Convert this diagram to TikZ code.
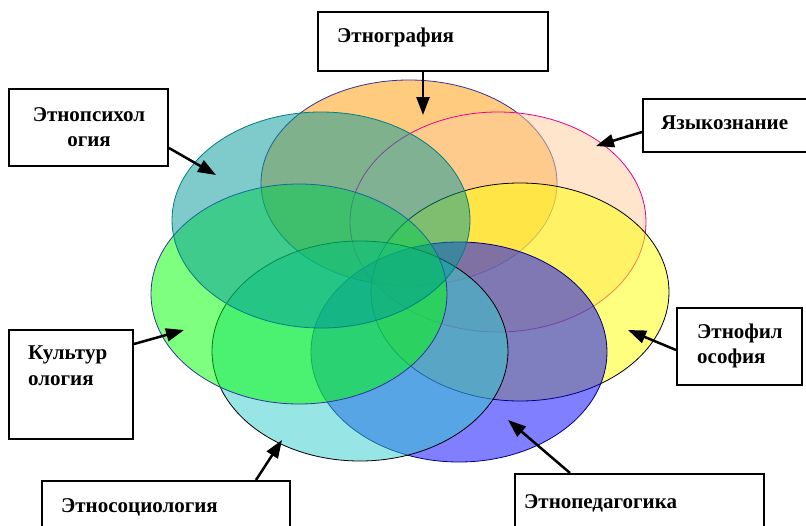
\documentclass[tikz,border=0pt]{standalone}
\usepackage{fontspec}
\setmainfont{Liberation Serif}
\usetikzlibrary{arrows.meta}
\definecolor{cOrange}{HTML}{FF9900}
\definecolor{cPeach}{HTML}{FFCC99}
\definecolor{cTeal}{HTML}{009999}
\definecolor{cYellow}{HTML}{FFFF00}
\definecolor{cGreen}{HTML}{00FF00}
\definecolor{cCyan}{HTML}{33CCCC}
\definecolor{cBlue}{HTML}{0000FF}
\definecolor{bNavy}{HTML}{333399}
\definecolor{bTeal}{HTML}{008080}
\definecolor{bDark}{HTML}{000080}
\tikzset{
  ell/.style={line width=0.8pt, fill opacity=0.5},
  boxnode/.style={draw=black, line width=2pt, fill=white, inner sep=0pt},
  lbl/.style={font=\fontsize{21}{25.5}\selectfont\bfseries, inner sep=0pt},
  arr/.style={line width=2.5pt, -{Triangle[length=18pt,width=13pt]}},
}
\begin{document}
\begin{tikzpicture}[x=1pt,y=-1pt]
\useasboundingbox (0,0) rectangle (806,525);
\clip (0,0) rectangle (806,525);
\fill[white] (0,0) rectangle (806,525);
% ellipses
\draw[ell, draw=bNavy, fill=cOrange] (409,183) ellipse [x radius=148pt, y radius=103pt];
\draw[ell, draw=magenta, fill=cPeach] (498,222) ellipse [x radius=148pt, y radius=110pt];
\draw[ell, draw=black, fill=cYellow] (520,292) ellipse [x radius=149pt, y radius=109pt];
\draw[ell, draw=bDark, fill=cBlue] (459,352) ellipse [x radius=148pt, y radius=110pt];
\draw[ell, draw=black, fill=cCyan] (360,351) ellipse [x radius=148pt, y radius=110pt];
\draw[ell, draw=bNavy, fill=cGreen] (299,294) ellipse [x radius=148pt, y radius=110pt];
\draw[ell, draw=bTeal, fill=cTeal] (321,220) ellipse [x radius=149pt, y radius=108pt];
% boxes
\node[boxnode, minimum width=230pt, minimum height=59pt] (bEthnog) at (433,41.5) {};
\node[lbl, anchor=base west] (tEthnog) at (337,42) {Этнография};
\node[boxnode, minimum width=159pt, minimum height=77pt] (bPsy) at (88.5,127.5) {};
\node[lbl, align=center] (tPsy) at (89,127) {Этнопсихол\\огия};
\node[boxnode, minimum width=170pt, minimum height=53pt] (bLang) at (728,125) {};
\node[lbl, anchor=base west] (tLang) at (661,129) {Языкознание};
\node[boxnode, minimum width=125pt, minimum height=77pt] (bPhil) at (739.5,346.5) {};
\node[lbl, align=left, anchor=west] (tPhil) at (697,346) {Этнофил\\ософия};
\node[boxnode, minimum width=124pt, minimum height=109pt] (bCult) at (71,384.5) {};
\node[lbl, align=left, anchor=north west] (tCult) at (28,346) {Культур\\ология};
\node[boxnode, minimum width=248pt, minimum height=60pt] (bSoc) at (166,511) {};
\node[lbl, anchor=base west] (tSoc) at (61,512) {Этносоциология};
\node[boxnode, minimum width=249pt, minimum height=70pt] (bPed) at (639.5,509) {};
\node[lbl, anchor=base west] (tPed) at (524,508) {Этнопедагогика};
% arrow targets
\coordinate (pEthnog) at (423,115);
\coordinate (pPsy) at (216,175);
\coordinate (pLang) at (596,146);
\coordinate (pPhil) at (628,330);
\coordinate (pCult) at (184,330);
\coordinate (pSoc) at (282,440);
\coordinate (pPed) at (508,420);
% arrows
\draw[arr] (bEthnog.south -| pEthnog) -- (pEthnog);
\draw[arr] (bPsy.east |- 0,148) -- (pPsy);
\draw[arr] (bLang.west |- 0,132) -- (pLang);
\draw[arr] (bPhil.west |- 0,350) -- (pPhil);
\draw[arr] (bCult.east |- 0,344) -- (pCult);
\draw[arr] (bSoc.north -| 256,0) -- (pSoc);
\draw[arr] (bPed.north -| 570,0) -- (pPed);
\end{tikzpicture}
\end{document}
